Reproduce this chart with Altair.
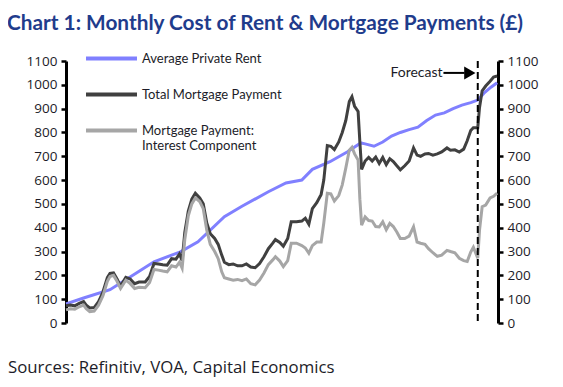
import altair as alt
import pandas as pd

# ---- data ----
rent_years = [1975, 1977, 1980, 1983, 1985, 1988, 1990, 1993, 1995, 1998, 2000, 2001.8, 2003, 2005,
              2007, 2008.5, 2009, 2010, 2011, 2012, 2013, 2014, 2015, 2016, 2017, 2018, 2019,
              2020, 2021, 2021.8, 2022.5, 2023.3, 2024]
rent_vals = [80, 105, 140, 210, 257, 299, 341, 446, 490, 551, 588, 600, 645, 677,
             719, 756, 752, 742, 760, 785, 800, 812, 822, 850, 873, 882, 900,
             915, 925, 936, 965, 990, 1009]

mort_years = [1975.0, 1975.5, 1976.0, 1976.5, 1977.0, 1977.3, 1977.7, 1978.2, 1978.7, 1979.2, 1979.7,
              1980.0, 1980.4, 1980.8, 1981.2, 1981.8, 1982.3, 1982.8, 1983.3, 1984.0, 1984.5,
              1985.0, 1985.5, 1986.0, 1986.5, 1987.0, 1987.5, 1987.9, 1988.2, 1988.5, 1988.9,
              1989.3, 1989.7, 1990.2, 1990.6, 1991.0, 1991.4, 1991.9, 1992.3, 1992.7, 1993.0,
              1993.5, 1994.0, 1994.5, 1995.0, 1995.5, 1996.0, 1996.5, 1997.0, 1997.5, 1998.0,
              1998.5, 1998.8, 1999.3, 1999.7, 2000.2, 2000.6, 2001.2, 2001.8, 2002.2, 2002.6,
              2003.0, 2003.5, 2004.0, 2004.3, 2004.7, 2005.1, 2005.5, 2006.0, 2006.4, 2006.8,
              2007.2, 2007.5, 2007.8, 2008.2, 2008.4, 2008.6, 2009.0, 2009.4, 2009.8, 2010.2,
              2010.6, 2011.0, 2011.4, 2011.8, 2012.2, 2012.6, 2013.0, 2013.5, 2014.0, 2014.5,
              2014.9, 2015.3, 2015.8, 2016.2, 2016.7, 2017.2, 2017.7, 2018.3, 2018.7, 2019.2,
              2019.7, 2020.2, 2020.6, 2021.0, 2021.3, 2021.8, 2022.0, 2022.3, 2022.7, 2023.2,
              2023.6, 2024.0]
total_vals = [72, 75, 72, 82, 90, 75, 63, 65, 90, 130, 190,
              208, 210, 185, 155, 192, 185, 165, 172, 172, 195,
              250, 248, 245, 243, 270, 268, 290, 262, 380, 470,
              520, 545, 525, 500, 420, 375, 355, 330, 285, 255,
              245, 248, 240, 240, 248, 235, 232, 250, 278, 312,
              335, 350, 338, 322, 355, 425, 425, 428, 440, 415,
              480, 505, 540, 600, 745, 742, 728, 760, 800, 850,
              930, 950, 910, 888, 760, 645, 680, 695, 680, 697,
              670, 695, 665, 690, 678, 660, 643, 660, 680, 735,
              705, 700, 710, 712, 705, 710, 718, 735, 725, 727,
              718, 730, 765, 808, 820, 820, 905, 975, 995, 1015,
              1033, 1037]
interest_vals = [55, 60, 58, 68, 75, 60, 48, 50, 75, 115, 175,
                 195, 200, 175, 145, 180, 165, 145, 150, 148, 170,
                 225, 222, 218, 215, 240, 235, 255, 230, 350, 450,
                 500, 525, 510, 480, 390, 330, 300, 270, 215, 190,
                 185, 180, 183, 178, 185, 165, 160, 180, 210, 245,
                 265, 278, 260, 237, 262, 335, 335, 325, 315, 293,
                 325, 340, 340, 420, 545, 542, 512, 535, 580, 650,
                 726, 738, 710, 684, 520, 411, 445, 430, 428, 405,
                 403, 425, 392, 418, 405, 382, 355, 355, 365, 404,
                 340, 335, 330, 312, 295, 280, 285, 305, 300, 295,
                 272, 262, 258, 298, 318, 272, 390, 488, 495, 525,
                 532, 545]

series_names = ["Average Private Rent", "Total Mortgage Payment",
                "Mortgage Payment: Interest Component"]
series_colors = ["#8080ff", "#404040", "#a6a6a6"]

forecast_year = [2021.8]
x_ticks = [1975, 1980, 1985, 1990, 1995, 2000, 2005, 2010, 2015, 2020]
y_ticks = [0, 100, 200, 300, 400, 500, 600, 700, 800, 900, 1000, 1100]
source_text = ["Sources: Refinitiv, VOA, Capital Economics"]

# ---- build table ----
rows = []
for y, v in zip(rent_years, rent_vals):
    rows.append({"year": y, "value": v, "series": series_names[0], "order": 0})
for y, v in zip(mort_years, total_vals):
    rows.append({"year": y, "value": v, "series": series_names[1], "order": 1})
for y, v in zip(mort_years, interest_vals):
    rows.append({"year": y, "value": v, "series": series_names[2], "order": 2})
df = pd.DataFrame(rows)

FONT = "Lato"
AFONT = "Open Sans"
TXT = "#1c1c28"

xscale = alt.Scale(domain=[1975, 2024.1], nice=False, zero=False)
yscale = alt.Scale(domain=[0, 1100], nice=False)

x_enc = alt.X("year:Q", scale=xscale,
              axis=alt.Axis(values=x_ticks, format="d", grid=False, labelFlush=False, title=""))

lines = alt.Chart(df).mark_line(strokeWidth=3).encode(
    x=x_enc,
    y=alt.Y("value:Q", scale=yscale,
            axis=alt.Axis(values=y_ticks, format="d", grid=False, title="", orient="left")),
    color=alt.Color("series:N",
                    scale=alt.Scale(domain=series_names, range=series_colors),
                    legend=alt.Legend(
                        title=None, orient="none", legendX=18, legendY=-30,
                        symbolType="stroke", symbolSize=2600, symbolStrokeWidth=4,
                        labelFontSize=13, labelFont=FONT, labelColor=TXT,
                        rowPadding=0, labelLimit=300, labelOffset=3,
                        labelExpr="datum.label == 'Mortgage Payment: Interest Component' ? ['Mortgage Payment:', 'Interest Component'] : datum.label")),
    detail="series:N",
    order="order:Q",
)

right_axis = alt.Chart(df).mark_line(opacity=0).encode(
    x=alt.X("year:Q", scale=xscale, axis=None),
    y=alt.Y("value:Q", scale=yscale,
            axis=alt.Axis(values=y_ticks, format="d", grid=False, title="", orient="right")),
)

fdf = pd.DataFrame({"year": forecast_year})
dash = alt.Chart(fdf).mark_rule(color="black", strokeWidth=2, strokeDash=[7, 4]).encode(
    x=alt.X("year:Q", scale=xscale, axis=None))

ann = pd.DataFrame({"tx": [2017.8], "x1": [2017.9], "x2": [2020.3], "tip": [2020.9], "y": [1050],
                    "label": ["Forecast"]})
ftext = alt.Chart(ann).mark_text(align="right", baseline="middle", fontSize=14, font=FONT,
                                 color=TXT).encode(
    x=alt.X("tx:Q", scale=xscale, axis=None),
    y=alt.Y("y:Q", scale=yscale, axis=None), text="label:N")
farrow = alt.Chart(ann).mark_rule(color="black", strokeWidth=2).encode(
    x=alt.X("x1:Q", scale=xscale, axis=None), x2="x2:Q",
    y=alt.Y("y:Q", scale=yscale, axis=None))
fhead = alt.Chart(ann).mark_point(shape="triangle-right", filled=True, color="black",
                                  size=170, opacity=1).encode(
    x=alt.X("tip:Q", scale=xscale, axis=None), y=alt.Y("y:Q", scale=yscale, axis=None))

src = alt.Chart(pd.DataFrame({"t": source_text})).mark_text(
    align="left", baseline="middle", fontSize=16.8, font=AFONT, color=TXT).encode(
    x=alt.value(-58), y=alt.value(307), text="t:N")

chart = alt.layer(lines, right_axis, dash, ftext, farrow, fhead, src).resolve_scale(
    y="shared").resolve_axis(y="independent").properties(
    width=432, height=262,
    padding={"left": 58, "top": 53, "right": 57, "bottom": 56},
    autosize=alt.AutoSizeParams(type="none"),
    title=alt.TitleParams("Chart 1: Monthly Cost of Rent & Mortgage Payments (£)",
                          anchor="start", dx=-1, offset=-4, fontSize=20.8, font=FONT,
                          fontWeight="bold", color="#1f3c8c"),
).configure_view(stroke=None).configure_axis(
    domainColor="black", domainWidth=3, tickColor="black", tickWidth=2.5, tickSize=5,
    labelFontSize=13.5, labelFont=AFONT, labelColor=TXT, labelPadding=4,
)

chart.save("out.html", embed_options={"renderer": "svg", "actions": False})
